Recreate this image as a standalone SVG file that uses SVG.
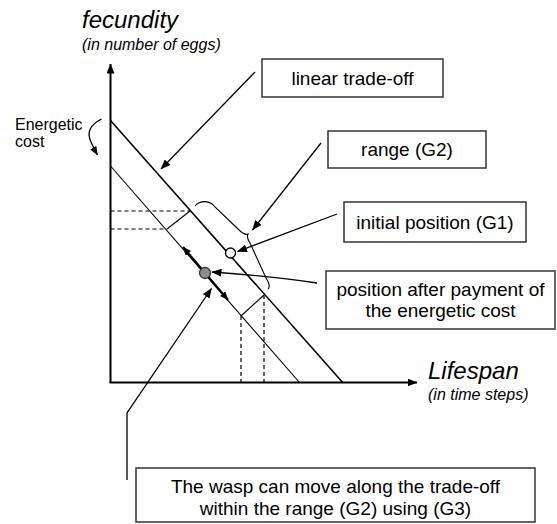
<svg xmlns="http://www.w3.org/2000/svg" width="557" height="524" viewBox="0 0 557 524">
<defs>
<marker id="ah" viewBox="0 0 10 8" refX="9.5" refY="4" markerWidth="10" markerHeight="8" markerUnits="userSpaceOnUse" orient="auto-start-reverse">
<path d="M0,0 L10,4 L0,8 Z" fill="#000"/>
</marker>
<marker id="ahs" viewBox="0 0 10 8" refX="9.5" refY="4" markerWidth="9" markerHeight="7" markerUnits="userSpaceOnUse" orient="auto-start-reverse">
<path d="M0,0 L10,4 L0,8 Z" fill="#000"/>
</marker>
<style>
.t{font-family:"Liberation Sans",Arial,sans-serif;fill:#000}
.box{fill:#fff;stroke:#333;stroke-width:1.5}
.lbl{font-size:19px;text-anchor:middle}
.ax{stroke:#000;stroke-width:2;fill:none}
.ln{stroke:#000;fill:none}
.dash{stroke:#000;stroke-width:1.2;stroke-dasharray:4,3;fill:none}
.con{stroke:#000;stroke-width:1.3;fill:none}
</style>
</defs>
<rect width="557" height="524" fill="#fff"/>

<g id="axes">
<line class="ax" x1="110.5" y1="383" x2="110.5" y2="64" marker-end="url(#ah)"/>
<line class="ax" x1="109.5" y1="382.5" x2="417" y2="382.5" marker-end="url(#ah)"/>
<text class="t" x="82" y="28" font-size="24" font-style="italic">fecundity</text>
<text class="t" x="82" y="50" font-size="16" font-style="italic">(in number of eggs)</text>
<text class="t" x="428" y="379" font-size="24" font-style="italic">Lifespan</text>
<text class="t" x="428" y="400" font-size="16" font-style="italic">(in time steps)</text>
</g>

<g id="tradeoff-lines">
<line class="ln" stroke-width="1.6" x1="110.5" y1="120.5" x2="342.7" y2="382.5"/>
<line class="ln" stroke-width="1.1" x1="110.5" y1="166" x2="299.5" y2="382.5"/>
<line class="dash" x1="110.5" y1="211" x2="190" y2="211"/>
<line class="dash" x1="110.5" y1="229" x2="167" y2="229"/>
<line class="ln" stroke-width="1.1" x1="190" y1="211" x2="167" y2="229"/>
<line class="dash" x1="241" y1="316" x2="241" y2="382"/>
<line class="dash" x1="264" y1="295" x2="264" y2="382"/>
<line class="ln" stroke-width="1.1" x1="241" y1="316" x2="264" y2="295"/>
<path class="ln" stroke-width="1.1" d="M195,206 C200,200 210,200 215,207 L238,229 C242,233 246,235 248,234 C247,236 248,240 250,243 L266,278 C270,284 270,287 268,289"/>
</g>

<g id="energetic-cost">
<text class="t" x="15" y="129.5" font-size="16">Energetic</text>
<text class="t" x="15" y="147" font-size="16">cost</text>
<path class="con" d="M101.5,119 Q84,128 91,142 Q94,149 97.5,155" marker-end="url(#ahs)"/>
</g>

<g id="positions">
<line class="ln" stroke-width="2.2" x1="183" y1="247" x2="228" y2="300" marker-start="url(#ahs)" marker-end="url(#ahs)"/>
<circle cx="205" cy="273" r="5.5" fill="#8c8c8c" stroke="#333" stroke-width="1.3"/>
<circle cx="230.5" cy="253" r="5" fill="#fff" stroke="#000" stroke-width="1.3"/>
</g>

<g id="connectors">
<line class="con" x1="255" y1="72" x2="161" y2="169" marker-end="url(#ah)"/>
<line class="con" x1="321" y1="143" x2="252.5" y2="230" marker-end="url(#ah)"/>
<line class="con" x1="337" y1="214" x2="237.5" y2="251.5" marker-end="url(#ah)"/>
<path class="con" d="M317,283 Q270,276 212,272" marker-end="url(#ah)"/>
<path class="con" d="M127,480 L127,413 L211.5,288.5" marker-end="url(#ah)"/>
</g>

<g id="node-linear">
<rect class="box" x="262" y="59" width="181" height="38"/>
<text class="t lbl" x="352.5" y="85">linear trade-off</text>
</g>
<g id="node-range">
<rect class="box" x="328" y="131" width="158" height="37"/>
<text class="t lbl" x="407" y="156">range (G2)</text>
</g>
<g id="node-initial">
<rect class="box" x="344" y="202" width="182" height="40"/>
<text class="t lbl" x="435" y="228.5">initial position (G1)</text>
</g>
<g id="node-after">
<rect class="box" x="326" y="271" width="229" height="58"/>
<text class="t lbl" x="440.5" y="296">position after payment of</text>
<text class="t lbl" x="440.5" y="317">the energetic cost</text>
</g>
<g id="node-wasp">
<rect class="box" x="136" y="468" width="399" height="54"/>
<text class="t lbl" x="335.5" y="492.5">The wasp can move along the trade-off</text>
<text class="t lbl" x="335.5" y="515">within the range (G2) using (G3)</text>
</g>
</svg>
